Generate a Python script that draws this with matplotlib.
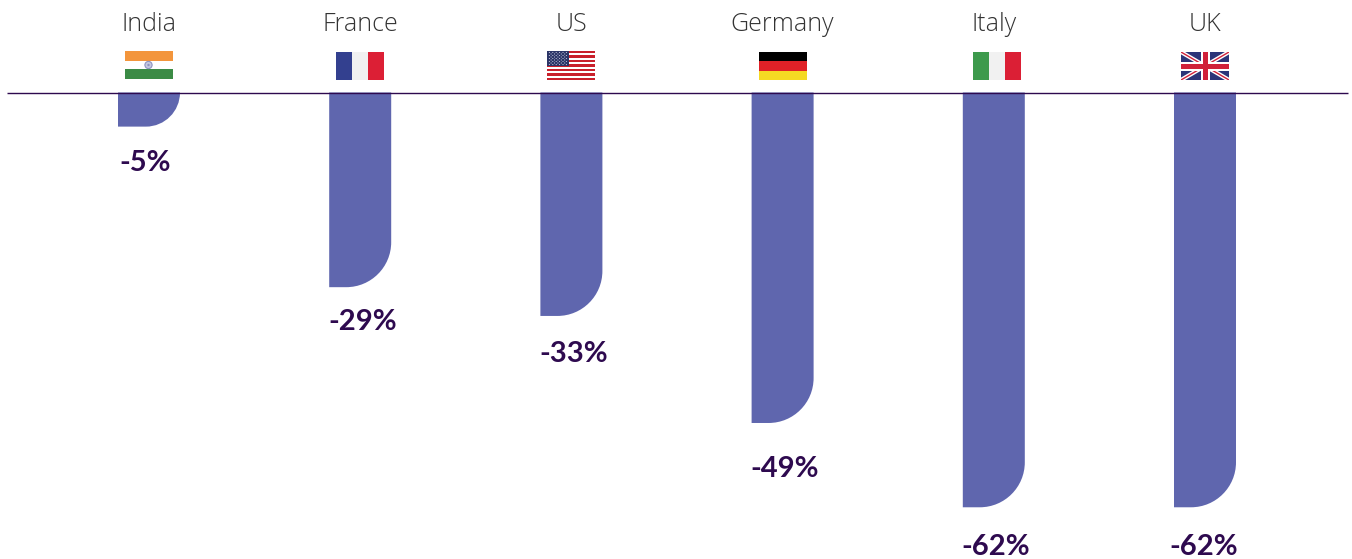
import matplotlib
matplotlib.use('Agg')
import matplotlib.pyplot as plt
from matplotlib.path import Path
from matplotlib.patches import PathPatch, Rectangle, Circle

countries = ['India', 'France', 'US', 'Germany', 'Italy', 'UK']
bar_values = [-5.1, -29.1, -33.4, -49.4, -62.0, -62.0]
value_labels = ['-5%', '-29%', '-33%', '-49%', '-62%', '-62%']

# figure size and scales, in pixels
W, H = 1352, 559
X0, X_STEP = 149.0, 211.2
Y0, Y_STEP = 92.5, 6.69
BAR_W = 62.0
RADIUS = 45.0
FLAG_W, FLAG_H = 48.0, 28.0

BAR_COLOR = '#5f66ae'
DARK = '#2e0a4f'
TEXT_COLOR = '#333333'

# small nudges (px), the source has these placed by hand
label_dx = [-4, 2, 2, 2, 2, -1]
label_dy = [36, 35, 38, 46, 39.5, 39.5]
flag_dx = [-0.5, 0, 0, 0, 3, 0]

fig = plt.figure(figsize=(W / 100, H / 100), dpi=100)
ax = fig.add_axes([0, 0, 1, 1])
ax.set_xlim(-X0 / X_STEP, (W - X0) / X_STEP)
ax.set_ylim(-(H - Y0) / Y_STEP, Y0 / Y_STEP)
ax.axis('off')


def rounded_bar(x, value):
    """Bar hanging from zero, only the bottom right corner is round"""
    half = BAR_W / 2 / X_STEP
    r_px = min(RADIUS, abs(value) * Y_STEP)
    rx = r_px / X_STEP
    ry = r_px / Y_STEP
    k = 0.5523
    verts = [
        (x - half, 0), (x + half, 0), (x + half, value + ry),
        (x + half, value + ry - k * ry), (x + half - rx + k * rx, value), (x + half - rx, value),
        (x - half, value), (x - half, 0),
    ]
    codes = [Path.MOVETO, Path.LINETO, Path.LINETO,
             Path.CURVE4, Path.CURVE4, Path.CURVE4,
             Path.LINETO, Path.CLOSEPOLY]
    return PathPatch(Path(verts, codes), facecolor=BAR_COLOR, edgecolor='none', zorder=2)


for i, v in enumerate(bar_values):
    ax.add_patch(rounded_bar(i, v))
    ax.text(i + label_dx[i] / X_STEP, v - label_dy[i] / Y_STEP, value_labels[i],
            ha='center', va='center', fontsize=21, fontweight='bold',
            family='Lato', color=DARK)
    ax.text(i, (Y0 - 21.5) / Y_STEP, countries[i], ha='center', va='center_baseline',
            fontsize=18, fontweight='light', family='Open Sans', color=TEXT_COLOR)

ax.plot([(7 - X0) / X_STEP, (1348 - X0) / X_STEP], [0, 0], color=DARK, lw=1.0, zorder=3,
        solid_capstyle='butt')

# overlay in pixel coordinates for the flags
fx = fig.add_axes([0, 0, 1, 1])
fx.set_xlim(0, W)
fx.set_ylim(H, 0)
fx.axis('off')
fx.patch.set_alpha(0)


def stripes_h(x, y, colors):
    h = FLAG_H / len(colors)
    for i, c in enumerate(colors):
        fx.add_patch(Rectangle((x, y + i * h), FLAG_W, h, color=c, lw=0))


def stripes_v(x, y, colors):
    w = FLAG_W / len(colors)
    for i, c in enumerate(colors):
        fx.add_patch(Rectangle((x + i * w, y), w, FLAG_H, color=c, lw=0))


def flag_india(x, y):
    y = y - 1
    fx.add_patch(Rectangle((x, y), FLAG_W, 10, color='#f3953c', lw=0))
    fx.add_patch(Rectangle((x, y + 18), FLAG_W, 10, color='#3b8b45', lw=0))
    fx.add_patch(Circle((x + FLAG_W / 2, y + FLAG_H / 2), 3.6, fc='#c5c8e0', ec='#8f94c0', lw=0.8))
    fx.add_patch(Circle((x + FLAG_W / 2, y + FLAG_H / 2), 1.2, fc='#8f94c0', ec='none'))


def flag_us(x, y):
    y = y - 1
    h = 29.0 / 13
    for i in range(13):
        fx.add_patch(Rectangle((x, y + i * h), FLAG_W, h, lw=0,
                               color='#c9202b' if i % 2 == 0 else '#ffffff'))
    cw, ch = 22.0, 15.0
    fx.add_patch(Rectangle((x, y), cw, ch, color='#2b3567', lw=0))
    for r in range(9):
        n = 6 if r % 2 == 0 else 5
        off = 2.0 if r % 2 == 0 else 3.7
        for c in range(n):
            fx.add_patch(Circle((x + off + c * 3.4, y + 1.5 + r * 1.5), 0.55, fc='#c8cbe0', ec='none'))


def flag_uk(x, y):
    blue, red = '#2b3478', '#d0213a'
    fx.add_patch(Rectangle((x, y), FLAG_W, FLAG_H, color=blue, lw=0, zorder=1))
    clip = Rectangle((x, y), FLAG_W, FLAG_H, transform=fx.transData)
    for a, b in [((x, y), (x + FLAG_W, y + FLAG_H)), ((x, y + FLAG_H), (x + FLAG_W, y))]:
        l1, = fx.plot([a[0], b[0]], [a[1], b[1]], color='white', lw=3.0, zorder=2,
                      solid_capstyle='projecting')
        l1.set_clip_path(clip)
        l2, = fx.plot([a[0], b[0]], [a[1], b[1]], color=red, lw=1.0, zorder=3,
                      solid_capstyle='projecting')
        l2.set_clip_path(clip)
    fx.add_patch(Rectangle((x + FLAG_W / 2 - 4.5, y), 9, FLAG_H, color='white', lw=0, zorder=4))
    fx.add_patch(Rectangle((x, y + FLAG_H / 2 - 4.5), FLAG_W, 9, color='white', lw=0, zorder=4))
    fx.add_patch(Rectangle((x + FLAG_W / 2 - 2.5, y), 5, FLAG_H, color=red, lw=0, zorder=5))
    fx.add_patch(Rectangle((x, y + FLAG_H / 2 - 2.5), FLAG_W, 5, color=red, lw=0, zorder=5))


flags = {
    'India': flag_india,
    'France': lambda x, y: stripes_v(x, y, ['#33408f', '#f1f1f1', '#dc1f35']),
    'US': flag_us,
    'Germany': lambda x, y: stripes_h(x, y, ['#000000', '#e02127', '#f5d923']),
    'Italy': lambda x, y: stripes_v(x, y, ['#3d9a4c', '#f1f1f1', '#db1f35']),
    'UK': flag_uk,
}
for i, name in enumerate(countries):
    cx = X0 + i * X_STEP + flag_dx[i]
    flags[name](cx - FLAG_W / 2, 52)

fig.savefig('out.png', dpi=100, facecolor='white')
